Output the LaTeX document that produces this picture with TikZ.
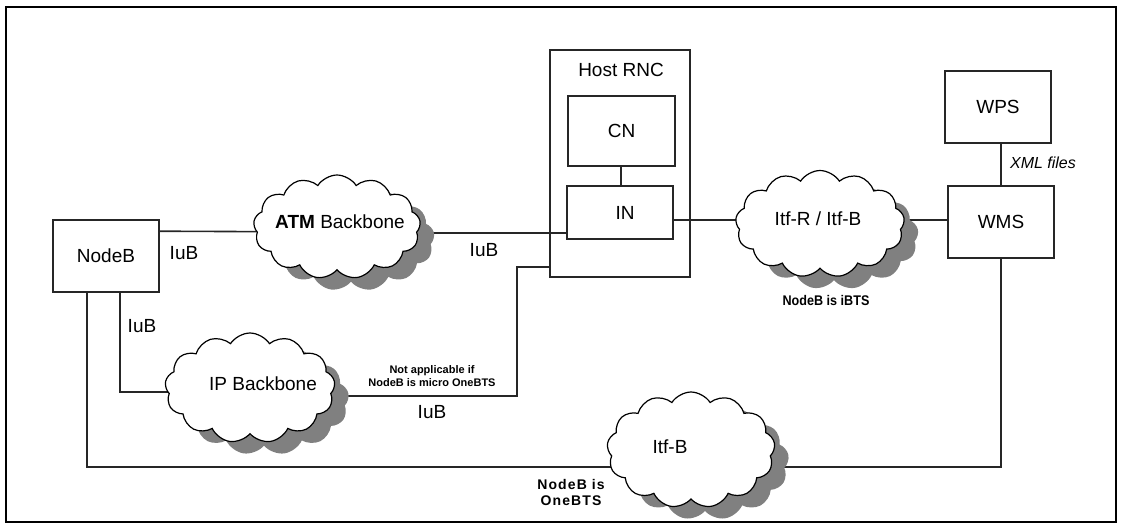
\documentclass[tikz,border=0pt]{standalone}
\usepackage{fontspec}
\setmainfont{Liberation Sans}
\usetikzlibrary{shapes.symbols,shadows,calc}
\pgfdeclarelayer{bg}
\pgfsetlayers{bg,main}
\begin{document}
\begin{tikzpicture}[x=1pt,y=-1pt,
  box/.style={draw=black!85, line width=1.6pt, inner sep=0pt, font=\fontsize{19}{22}\selectfont},
  conn/.style={draw=black!85, line width=1.6pt},
  cloudnode/.style={cloud, cloud puffs=13, cloud puff arc=115, draw=black, line width=1.2pt,
    fill=white, inner sep=0pt,
    drop shadow={shadow xshift=14pt, shadow yshift=-12pt, fill=black!50, opacity=1}},
  lbl/.style={inner sep=0pt, font=\fontsize{19}{22}\selectfont},
  note/.style={inner sep=0pt, font=\bfseries\fontsize{14}{16}\selectfont, align=center},
  tiny/.style={inner sep=0pt, font=\bfseries\fontsize{11}{13}\selectfont, align=center}
]
\useasboundingbox (0,0) rectangle (1121,525);
\draw[line width=1.6pt] (6,7) rectangle (1116,522);

% boxes
\node[box, minimum width=106pt, minimum height=72pt] (nodeB) at (106,256) {NodeB};
\node[box, minimum width=140pt, minimum height=227pt] (host) at (620,163.5) {};
\node[lbl] (hosttitle) at (621,70) {Host RNC};
\node[box, minimum width=107pt, minimum height=70pt] (cn) at (621.5,131) {CN};
\node[box, minimum width=106pt, minimum height=53pt] (in) at (620,212.5) {\hspace{10pt}IN};
\node[box, minimum width=106pt, minimum height=72pt] (wps) at (998,107) {WPS};
\node[box, minimum width=106pt, minimum height=72pt] (wms) at (1001,222) {WMS};

% clouds
\node[cloudnode, minimum width=167pt, minimum height=104pt,
  label={[lbl, shift={(3pt,5pt)}]center:\textbf{ATM} Backbone}] (atm) at (337,227) {};
\node[cloudnode, minimum width=170pt, minimum height=110pt,
  label={[lbl, shift={(13pt,4pt)}]center:IP Backbone}] (ip) at (250,388) {};
\node[cloudnode, minimum width=169pt, minimum height=107pt,
  label={[lbl, shift={(-2pt,5pt)}]center:Itf-R / Itf-B}] (itfr) at (820,224) {};
\node[cloudnode, minimum width=168pt, minimum height=116pt,
  label={[lbl, shift={(-21pt,3pt)}]center:Itf-B}] (itfb) at (691,450) {};

% bend points
\coordinate (p1) at (87,467);
\coordinate (p2) at (1001,467);
\coordinate (p3) at (120,392);
\coordinate (p4) at (517,396);
\coordinate (p5) at (517,267);

\begin{pgfonlayer}{bg}
\draw[conn] ($(nodeB.north east)+(0,12)$) -- (atm.center |- 0,232);
\draw[conn] (atm.center |- 0,233) -- (in.west |- 0,233);
\draw[conn] (in.east |- 0,220) -- (itfr.center |- 0,220);
\draw[conn] (itfr.center |- 0,220) -- (wms.west |- 0,220);
\draw[conn] (cn.south -| 621,0) -- (in.north -| 621,0);
\draw[conn] (wps.south -| wms.north) -- (wms.north);
\draw[conn] (nodeB.south -| p3) -- (p3) -- (ip.center |- p3);
\draw[conn] (nodeB.south -| p1) -- (p1) -- (itfb.center |- p1);
\draw[conn] (itfb.center |- p2) -- (p2) -- (wms.south -| p2);
\draw[conn] (ip.center |- p4) -- (p4) -- (p5) -- (host.west |- p5);
\end{pgfonlayer}

% labels
\node[lbl] (iub1) at (184,253) {IuB};
\node[lbl] (iub2) at (484,250) {IuB};
\node[lbl] (iub3) at (142,326) {IuB};
\node[lbl] (iub4) at (432,412) {IuB};
\node[tiny] (notapp) at (432,376.5) {Not applicable if\\NodeB is micro OneBTS};
\node[note] (ibts) at (826,300) {\scalebox{0.9}[1]{NodeB is iBTS}};
\node[note, font=\bfseries\fontsize{14}{16}\selectfont\addfontfeatures{LetterSpace=8}] (onebts) at (571,492.5) {NodeB is\\OneBTS};
\node[inner sep=0pt, font=\itshape\fontsize{16}{19}\selectfont] (xml) at (1043,163) {XML files};
\end{tikzpicture}
\end{document}
